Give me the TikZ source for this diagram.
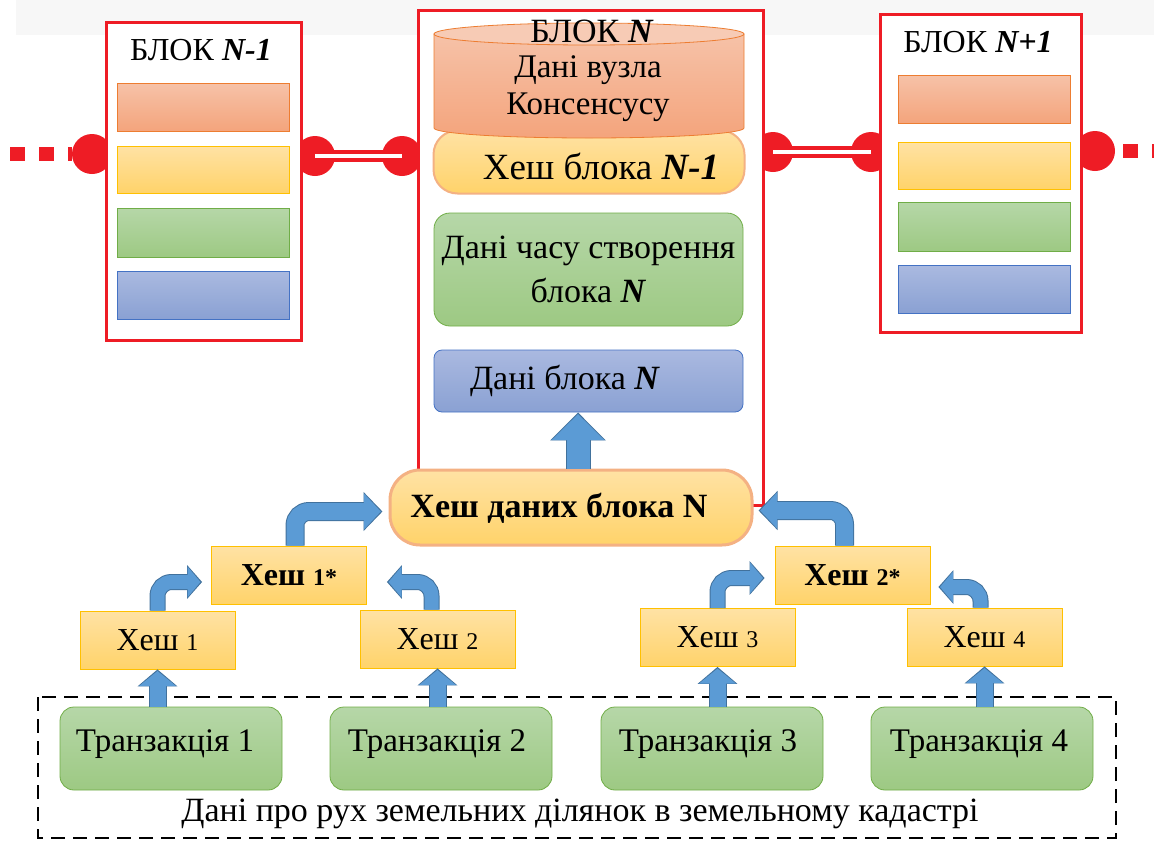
\documentclass[tikz,border=0pt]{standalone}
\usepackage{fontspec}
\setmainfont{Liberation Serif}
\usetikzlibrary{arrows.meta,calc,shapes.misc}
\definecolor{chred}{HTML}{EE1C25}
\definecolor{salT}{HTML}{F6C2A8}
\definecolor{salB}{HTML}{F4A47C}
\definecolor{salD}{HTML}{ED7D31}
\definecolor{yelT}{HTML}{FFE2A4}
\definecolor{yelB}{HTML}{FFD36A}
\definecolor{yelD}{HTML}{FFC000}
\definecolor{yelO}{HTML}{F4B183}
\definecolor{grnT}{HTML}{B6D7A8}
\definecolor{grnB}{HTML}{9DC983}
\definecolor{grnD}{HTML}{70AD47}
\definecolor{bluT}{HTML}{AAB9E0}
\definecolor{bluB}{HTML}{8AA1D3}
\definecolor{bluD}{HTML}{4472C4}
\definecolor{arrF}{HTML}{5B9BD5}
\definecolor{arrD}{HTML}{41719C}
\definecolor{band}{HTML}{F7F7F7}
\tikzset{
  frame/.style={draw=chred, line width=3pt, fill=white},
  joint/.style={circle, fill=chred, minimum size=40pt, inner sep=0pt},
  link/.style={draw=chred, line width=4.5pt, double=white, double distance=3.5pt},
  strip/.style={draw=#1D, line width=0.8pt, top color=#1T, bottom color=#1B},
  box/.style={rectangle, draw=#1D, line width=0.8pt, top color=#1T, bottom color=#1B, inner sep=0pt},
  hashbox/.style={box=yel, minimum width=155pt, minimum height=58pt, font=\fontsize{32}{32}\selectfont},
  txbox/.style={rectangle, rounded corners=14pt, draw=grnD, line width=0.8pt, top color=grnT, bottom color=grnB, minimum width=222pt, minimum height=83pt},
  txtext/.style={font=\fontsize{33}{33}\selectfont},
  big/.style={font=\fontsize{32}{38}\selectfont},
  bigger/.style={font=\fontsize{34}{44}\selectfont},
}
\newcommand{\sm}[1]{{\fontsize{24}{24}\selectfont #1}}
\newcommand{\barrow}[4]{% width, head width, head length, path
  \draw[arrD, line width=#1+2pt, -{Triangle[width=#2+3pt, length=#3+2pt]}, rounded corners=14pt] #4;
  \draw[arrF, line width=#1, shorten >=1.6pt, -{Triangle[width=#2, length=#3]}, rounded corners=14pt] #4;
}
\begin{document}
\begin{tikzpicture}[x=1pt,y=-1pt]
\useasboundingbox (0,0) rectangle (1154,841);
\fill[band] (16,0) rectangle (1154,35);

% chain connectors (behind frames)
\coordinate (lend) at (10,154);
\coordinate (rend) at (1154,151);
\node[joint] (c1) at (92,154) {};
\node[joint] (c2) at (315,156) {};
\node[joint] (c3) at (402,156) {};
\node[joint] (c4) at (773,152) {};
\node[joint] (c5) at (871,152) {};
\node[joint] (c6) at (1095,151) {};
\draw[chred, line width=14pt, dash pattern=on 15pt off 14pt] (lend) -- (c1.west);
\draw[chred, line width=14pt, dash pattern=on 15pt off 14pt, dash phase=21pt] (c6.east) -- (rend);
\draw[link] (c2.center) -- (c3.center);
\draw[link] (c4.center) -- (c5.center);

% block frames
\draw[frame] (106,22) rectangle (301,340);
\draw[frame] (880,14) rectangle (1081,332);
\draw[frame] (418,10) rectangle (763,505);

% block N-1
\node[big] (tA) at (201,50) {БЛОК \textbf{\textit{N-1}}};
\path[strip=sal] (117,83) rectangle (289,131);
\path[strip=yel] (117,146) rectangle (289,193);
\path[strip=grn] (117,208) rectangle (289,257);
\path[strip=blu] (117,271) rectangle (289,319);

% block N+1
\node[big] (tC) at (978,42) {БЛОК \textbf{\textit{N+1}}};
\path[strip=sal] (898,75) rectangle (1070,123);
\path[strip=yel] (898,142) rectangle (1070,189);
\path[strip=grn] (898,202) rectangle (1070,251);
\path[strip=blu] (898,265) rectangle (1070,313);

% block N contents
\node[rectangle, rounded corners=24pt, draw=yelO, line width=2pt, top color=yelT, bottom color=yelB,
      minimum width=311pt, minimum height=63pt] (hb) at (589,162) {};
\node[font=\fontsize{37}{37}\selectfont] (hbt) at (601,166) {Хеш блока \textbf{\textit{N-1}}};
\path[draw=salD, line width=0.8pt, top color=salT, bottom color=salB]
  (434,34) -- (434,128) arc[start angle=180, end angle=0, x radius=155, y radius=10] -- (744,34) -- cycle;
\path[draw=salD, line width=0.8pt, fill=salT!85!white] (589,34) ellipse[x radius=155, y radius=11];
\node[font=\fontsize{34}{34}\selectfont] (tB) at (592,31) {БЛОК \textbf{\textit{N}}};
\node[font=\fontsize{33}{37}\selectfont, align=center] (cons) at (588,89) {Дані вузла\\Консенсусу};
\node[rectangle, rounded corners=16pt, draw=grnD, line width=0.8pt, top color=grnT, bottom color=grnB,
      minimum width=309pt, minimum height=113pt, bigger, align=center] (dcs) at (588.5,269.5)
      {Дані часу створення\\блока \textbf{\textit{N}}};
\node[rectangle, rounded corners=8pt, draw=bluD, line width=0.8pt, top color=bluT, bottom color=bluB,
      minimum width=309pt, minimum height=62pt] (dbn) at (588.5,381) {};
\node[bigger] (dbnt) at (565,381) {Дані блока \textbf{\textit{N}}};

% hash of block data
\node[rectangle, rounded corners=30pt, draw=yelO, line width=3pt, top color=yelT, bottom color=yelB,
      minimum width=362pt, minimum height=75pt] (hn) at (571,507.5) {};
\node[font=\fontsize{34}{34}\selectfont\bfseries] (hnt) at (559,508) {Хеш даних блока N};

% hash tree
\node[hashbox] (h1s) at (289,575) {\textbf{Хеш \sm{1*}}};
\node[hashbox] (h2s) at (852.5,575) {\textbf{Хеш \sm{2*}}};
\node[hashbox] (h1) at (157.5,640) {Хеш \sm{1}};
\node[hashbox] (h2) at (437.5,639) {Хеш \sm{2}};
\node[hashbox] (h3) at (717.5,637.5) {Хеш \sm{3}};
\node[hashbox] (h4) at (984.5,637) {Хеш \sm{4}};

% transactions
\draw[dashed, line width=1.5pt, dash pattern=on 14pt off 8pt] (38,697) rectangle (1116,838);
\node[txbox] (t1) at (171,748.5) {};
\node[txbox] (t2) at (441,748.5) {};
\node[txbox] (t3) at (712,748.5) {};
\node[txbox] (t4) at (982,748.5) {};
\node[txtext] at ($(t1)+(-6,-4)$) {Транзакція 1};
\node[txtext] at ($(t2)+(-4,-4)$) {Транзакція 2};
\node[txtext] at ($(t3)+(-4,-4)$) {Транзакція 3};
\node[txtext] at ($(t4)+(-3,-4)$) {Транзакція 4};
\node[font=\fontsize{34}{34}\selectfont] (cad) at (580,814) {Дані про рух земельних ділянок в земельному кадастрі};

% arrows
\barrow{16pt}{36pt}{15pt}{(h1.south |- t1.north) -- (h1.south)}
\barrow{16pt}{36pt}{15pt}{(h2.south |- t2.north) -- (h2.south)}
\barrow{16pt}{36pt}{15pt}{(h3.south |- t3.north) -- (h3.south)}
\barrow{16pt}{36pt}{15pt}{(h4.south |- t4.north) -- (h4.south)}
\barrow{14pt}{30pt}{13pt}{(h1.north) |- ($(h1s.west)+(-9,7)$)}
\barrow{14pt}{30pt}{13pt}{($(h2.north)+(-6,0)$) |- ($(h1s.east)+(20,7)$)}
\barrow{14pt}{30pt}{13pt}{(h3.north) |- ($(h2s.west)+(-10,3)$)}
\barrow{14pt}{30pt}{13pt}{($(h4.north)+(-4,0)$) |- ($(h2s.east)+(8,12)$)}
\barrow{17pt}{35pt}{17pt}{($(h1s.north)+(6,0)$) |- ($(hn.west)+(-6,4)$)}
\barrow{17pt}{35pt}{17pt}{($(h2s.north)+(-8,0)$) |- ($(hn.east)+(5,3)$)}
\coordinate (up) at ($(hn.north)+(7,0)$);
\barrow{23pt}{51pt}{26pt}{(up) -- (up |- dbn.south)}
\end{tikzpicture}
\end{document}
